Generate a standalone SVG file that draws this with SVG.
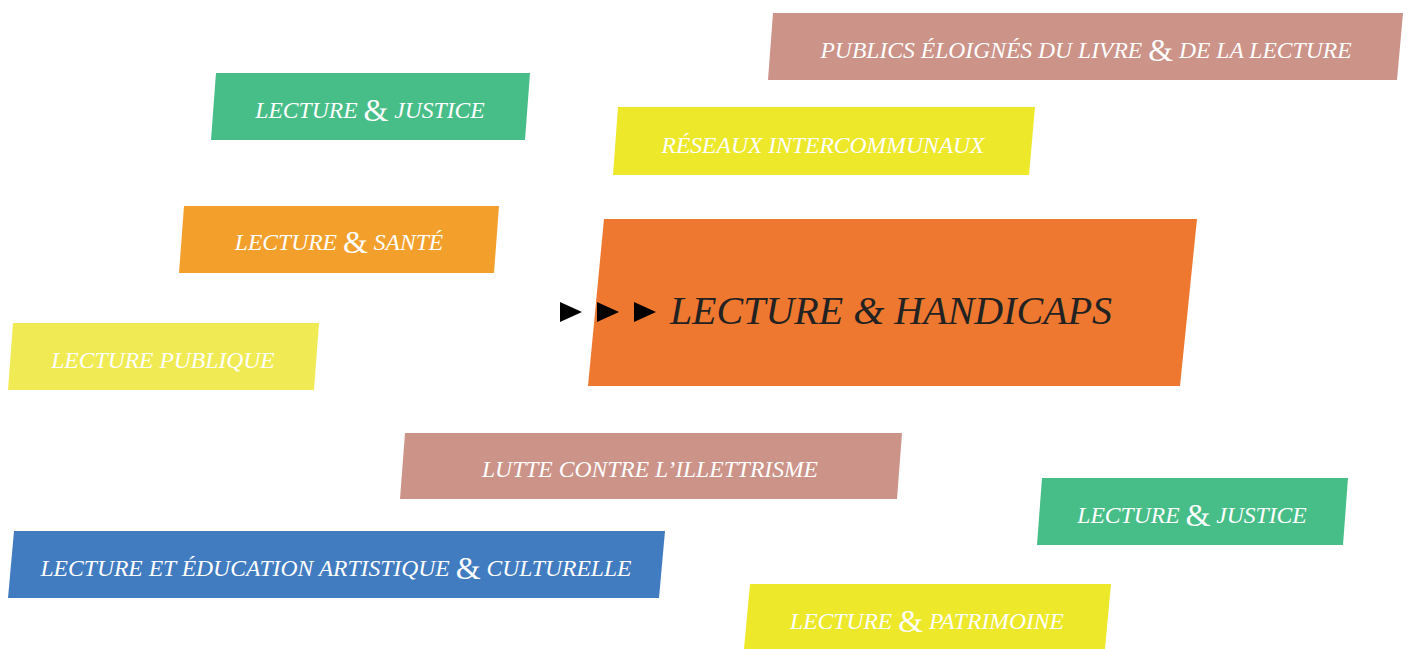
<svg xmlns="http://www.w3.org/2000/svg" width="1413" height="649" viewBox="0 0 1413 649">
<style>
.t{font-family:"Liberation Serif","DejaVu Serif",serif;font-style:italic;font-size:23.6px;fill:#ffffff;text-anchor:middle;dominant-baseline:central}
.a{font-style:normal;font-size:32px}
.big{font-size:40px;fill:#222222}
.pink{fill:#CC9389}.green{fill:#47BD88}.yellow{fill:#EDE829}.orange{fill:#F2A02B}.big-orange{fill:#EE782F}.lyellow{fill:#F0EB55}.blue{fill:#417BC0}
</style>
<rect width="1413" height="649" fill="#ffffff"/>
<g id="publics"><polygon class="pink" points="773,13 1403,13 1397,80 768,80"/><text class="t" x="1086" y="50">PUBLICS ÉLOIGNÉS DU LIVRE <tspan class="a">&amp;</tspan> DE LA LECTURE</text></g>
<g id="justice1"><polygon class="green" points="216,73 530,73 525,140 211,140"/><text class="t" x="370" y="110">LECTURE <tspan class="a">&amp;</tspan> JUSTICE</text></g>
<g id="reseaux"><polygon class="yellow" points="618,107 1035,107 1029,175 613,175"/><text class="t" x="823" y="145">RÉSEAUX INTERCOMMUNAUX</text></g>
<g id="sante"><polygon class="orange" points="184,206 499,206 494,273 179,273"/><text class="t" x="339" y="242">LECTURE <tspan class="a">&amp;</tspan> SANTÉ</text></g>
<g id="handicaps"><polygon class="big-orange" points="604,219 1197,219 1180,386 588,386"/>
<polygon fill="#000" points="560,302 582,312 560,322"/><polygon fill="#000" points="597,302 619,312 597,322"/><polygon fill="#000" points="634,302 656,312 634,322"/>
<text class="t big" x="891" y="310">LECTURE &amp; HANDICAPS</text></g>
<g id="publique"><polygon class="lyellow" points="13,323 319,323 314,390 8,390"/><text class="t" x="163" y="360">LECTURE PUBLIQUE</text></g>
<g id="illettrisme"><polygon class="pink" points="405,433 902,433 897,499 400,499"/><text class="t" x="650" y="469">LUTTE CONTRE L’ILLETTRISME</text></g>
<g id="justice2"><polygon class="green" points="1042,478 1348,478 1343,545 1037,545"/><text class="t" x="1192" y="515">LECTURE <tspan class="a">&amp;</tspan> JUSTICE</text></g>
<g id="eac"><polygon class="blue" points="14,531 665,531 659,598 8,598"/><text class="t" x="336" y="568">LECTURE ET ÉDUCATION ARTISTIQUE <tspan class="a">&amp;</tspan> CULTURELLE</text></g>
<g id="patrimoine"><polygon class="yellow" points="750,584 1111,584 1105,649 744,649"/><text class="t" x="927" y="621">LECTURE <tspan class="a">&amp;</tspan> PATRIMOINE</text></g>
<g id="connectors"></g>
</svg>
